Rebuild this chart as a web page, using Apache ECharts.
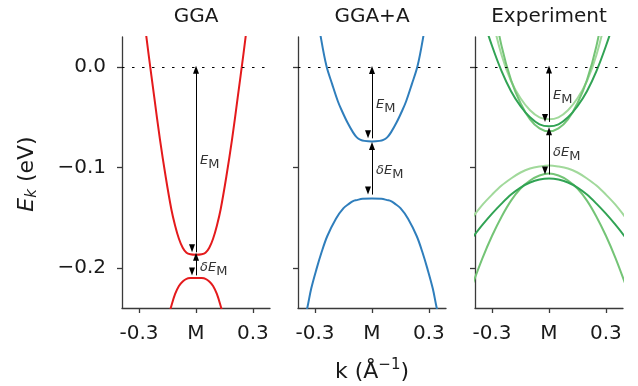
<!DOCTYPE html>
<html>
<head>
<meta charset="utf-8">
<script src="https://cdn.jsdelivr.net/npm/echarts@6/dist/echarts.min.js"></script>
<style>
  html, body { margin: 0; padding: 0; background: #fff; }
  #chart { width: 638px; height: 386px; }
</style>
</head>
<body>
<div id="chart"></div>
<script>
// ---- panel titles and axis ticks ----
const panelTitles = ['GGA', 'GGA+A', 'Experiment'];
const xTickValues = [-0.3, 0, 0.3];
const xTickLabels = ['-0.3', 'M', '0.3'];
const yTickValues = [0, -0.1, -0.2];
const yTickLabels = ['0.0', '\u22120.1', '\u22120.2'];

// ---- GGA bands (k in 1/Angstrom, E in eV) ----
const ggaUpperK = [-0.28, -0.25, -0.22, -0.19, -0.16, -0.13, -0.11, -0.09, -0.07, -0.05, -0.03, 0,
                   0.03, 0.05, 0.07, 0.09, 0.11, 0.13, 0.16, 0.19, 0.22, 0.25, 0.28];
const ggaUpperE = [0.058, 0.013, -0.030, -0.072, -0.109, -0.1416, -0.158, -0.171, -0.180, -0.185, -0.1865, -0.187,
                   -0.1865, -0.185, -0.180, -0.171, -0.158, -0.1416, -0.109, -0.072, -0.030, 0.013, 0.058];
const ggaLowerK = [-0.15, -0.13, -0.11, -0.09, -0.07, -0.05, -0.03, 0, 0.03, 0.05, 0.07, 0.09, 0.11, 0.13, 0.15];
const ggaLowerE = [-0.252, -0.238, -0.226, -0.218, -0.2135, -0.211, -0.2102, -0.210,
                   -0.2102, -0.211, -0.2135, -0.218, -0.226, -0.238, -0.252];

// ---- GGA+A bands ----
const ggaaUpperK = [-0.29, -0.27, -0.24, -0.21, -0.18, -0.16, -0.13, -0.10, -0.08, -0.06, -0.04, 0,
                    0.04, 0.06, 0.08, 0.10, 0.13, 0.16, 0.18, 0.21, 0.24, 0.27, 0.29];
const ggaaUpperE = [0.055, 0.030, 0.001, -0.017, -0.034, -0.043, -0.055, -0.065, -0.070, -0.0725, -0.0735, -0.074,
                    -0.0735, -0.0725, -0.070, -0.065, -0.055, -0.043, -0.034, -0.017, 0.001, 0.030, 0.055];
const ggaaLowerK = [-0.36, -0.34, -0.32, -0.293, -0.265, -0.236, -0.19, -0.15, -0.12, -0.10, -0.08, -0.05, 0,
                    0.05, 0.08, 0.10, 0.12, 0.15, 0.19, 0.236, 0.265, 0.293, 0.32, 0.34, 0.36];
const ggaaLowerE = [-0.256, -0.239, -0.2204, -0.2015, -0.184, -0.1685, -0.151, -0.1405, -0.136, -0.1335, -0.1325, -0.1312, -0.131,
                    -0.1312, -0.1325, -0.1335, -0.136, -0.1405, -0.151, -0.1685, -0.184, -0.2015, -0.2204, -0.239, -0.256];

// ---- Experimental bands (three data sets) ----
const expK = [-0.40, -0.35, -0.30, -0.25, -0.20, -0.15, -0.10, -0.05, 0,
              0.05, 0.10, 0.15, 0.20, 0.25, 0.30, 0.35, 0.40];
const expLightUpper  = [0.150, 0.100, 0.050, 0.012, -0.014, -0.031, -0.043, -0.050, -0.052,
                        -0.050, -0.043, -0.031, -0.014, 0.012, 0.050, 0.100, 0.150];
const expMediumUpper = [0.200, 0.130, 0.070, 0.021, -0.013, -0.036, -0.052, -0.061, -0.064,
                        -0.061, -0.052, -0.036, -0.013, 0.021, 0.070, 0.130, 0.200];
const expDarkUpper   = [0.085, 0.050, 0.021, -0.004, -0.024, -0.039, -0.050, -0.057, -0.059,
                        -0.057, -0.050, -0.039, -0.024, -0.004, 0.021, 0.050, 0.085];
const expLightLower  = [-0.149, -0.137, -0.127, -0.118, -0.111, -0.105, -0.101, -0.099, -0.098,
                        -0.099, -0.101, -0.105, -0.111, -0.118, -0.127, -0.137, -0.149];
const expMediumLower = [-0.215, -0.190, -0.168, -0.149, -0.133, -0.121, -0.113, -0.108, -0.106,
                        -0.108, -0.113, -0.121, -0.133, -0.149, -0.168, -0.190, -0.215];
const expDarkLower   = [-0.169, -0.157, -0.146, -0.136, -0.127, -0.120, -0.115, -0.112, -0.111,
                        -0.112, -0.115, -0.120, -0.127, -0.136, -0.146, -0.157, -0.169];

// ---- gap arrows at M: [E_start, E_end] ----
const ggaArrows  = [[-0.0027, -0.1845], [-0.189, -0.2075]];
const ggaaArrows = [[-0.003, -0.071], [-0.0785, -0.127]];
const expArrows  = [[-0.0025, -0.0546], [-0.064, -0.107]];
const arrowLabels = ['{e|E}{m|M}', '{d|\u03b4E}{m|M}'];

// ---- styling ----
const FONT = 'DejaVu Sans';
const TEXT = '#1a1a1a';
const AXIS = '#3a3a3a';
const RED = '#e41a1c';
const BLUE = '#2f7ebc';
const G_LIGHT = '#a1d99b';
const G_MED = '#74c476';
const G_DARK = '#31a354';

const gridLefts = [122, 298, 475];
const gridTop = 37, gridWidth = 148, gridHeight = 271;

const zip = (ks, es) => ks.map((k, i) => [k, es[i]]);

function curve(panel, name, ks, es, color) {
  return {
    type: 'line', name, xAxisIndex: panel, yAxisIndex: panel,
    data: zip(ks, es), smooth: 0.35, symbol: 'none', clip: true,
    lineStyle: { color, width: 2 }, silent: true, z: 3
  };
}

function zeroLine(s) {
  s.markLine = {
    silent: true, symbol: 'none', animation: false,
    label: { show: false },
    lineStyle: { color: '#000', width: 1, type: [2.5, 7.5] },
    data: [{ yAxis: 0 }]
  };
  return s;
}

function arrows(s, pairs) {
  s.markLine = {
    silent: true, animation: false,
    symbol: ['triangle', 'triangle'], symbolSize: [6, 8], symbolOffset: [0, 4],
    label: { show: false },
    lineStyle: { color: '#000', width: 1, type: 'solid' },
    data: pairs.map(p => [{ coord: [0, p[0]] }, { coord: [0, p[1]] }])
  };
  return s;
}

const series = [
  zeroLine(curve(0, 'GGA upper', ggaUpperK, ggaUpperE, RED)),
  arrows(curve(0, 'GGA lower', ggaLowerK, ggaLowerE, RED), ggaArrows),
  zeroLine(curve(1, 'GGA+A upper', ggaaUpperK, ggaaUpperE, BLUE)),
  arrows(curve(1, 'GGA+A lower', ggaaLowerK, ggaaLowerE, BLUE), ggaaArrows),
  zeroLine(curve(2, 'light lower', expK, expLightLower, G_LIGHT)),
  curve(2, 'light upper', expK, expLightUpper, G_LIGHT),
  curve(2, 'medium lower', expK, expMediumLower, G_MED),
  arrows(curve(2, 'medium upper', expK, expMediumUpper, G_MED), expArrows),
  curve(2, 'dark lower', expK, expDarkLower, G_DARK),
  curve(2, 'dark upper', expK, expDarkUpper, G_DARK)
];

const labelFor = (vals, labels) => v => {
  const i = vals.findIndex(t => Math.abs(t - v) < 1e-9);
  return i < 0 ? '' : labels[i];
};

const grid = gridLefts.map(l => ({ left: l, top: gridTop, width: gridWidth, height: gridHeight, containLabel: false }));

const xAxis = gridLefts.map((l, i) => ({
  type: 'value', gridIndex: i, min: -0.39, max: 0.39,
  axisLine: { show: true, onZero: false, lineStyle: { color: AXIS, width: 1.3 } },
  axisTick: { show: true, customValues: xTickValues, length: 5, lineStyle: { color: AXIS, width: 1.3 } },
  axisLabel: { show: true, customValues: xTickValues, formatter: labelFor(xTickValues, xTickLabels),
               fontFamily: FONT, fontSize: 20, color: TEXT, margin: 16 },
  splitLine: { show: false }
}));

const yAxis = gridLefts.map((l, i) => ({
  type: 'value', gridIndex: i, min: -0.24, max: 0.03,
  axisLine: { show: true, onZero: false, lineStyle: { color: AXIS, width: 1.3 } },
  axisTick: { show: true, customValues: yTickValues, length: 5, lineStyle: { color: AXIS, width: 1.3 } },
  axisLabel: { show: i === 0, customValues: yTickValues, formatter: labelFor(yTickValues, yTickLabels),
               fontFamily: FONT, fontSize: 20, color: TEXT, margin: 16 },
  splitLine: { show: false }
}));

const chart = echarts.init(document.getElementById('chart'), null, { renderer: 'canvas' });
chart.setOption({ animation: false, backgroundColor: '#fff', grid, xAxis, yAxis, series });

// ---- texts: titles, axis names, gap labels ----
const graphics = [];
panelTitles.forEach((t, i) => {
  graphics.push({
    type: 'text', x: gridLefts[i] + gridWidth / 2, y: 17,
    style: { text: t, font: `20px "${FONT}"`, fill: TEXT, align: 'center', verticalAlign: 'middle' }
  });
});
graphics.push({
  type: 'text', x: 27, y: 174, rotation: Math.PI / 2,
  style: {
    text: '{e|E}{k|k}{n| (eV)}', align: 'center', verticalAlign: 'middle', fill: TEXT,
    rich: {
      e: { fontFamily: FONT, fontSize: 22, fontStyle: 'italic', fill: TEXT },
      k: { fontFamily: FONT, fontSize: 15, fontStyle: 'italic', fill: TEXT, padding: [10, 0, 0, 0] },
      n: { fontFamily: FONT, fontSize: 22, fill: TEXT }
    }
  }
});
graphics.push({
  type: 'text', x: gridLefts[1] + gridWidth / 2, y: 372,
  style: {
    text: '{n|k (\u00c5}{s|\u22121}{n|)}', align: 'center', verticalAlign: 'middle', fill: TEXT,
    rich: {
      n: { fontFamily: FONT, fontSize: 22, fill: TEXT },
      s: { fontFamily: FONT, fontSize: 15, fill: TEXT, padding: [0, 0, 13, 0] }
    }
  }
});
const labelRich = {
  e: { fontFamily: FONT, fontSize: 13, fontStyle: 'italic', fill: '#333' },
  d: { fontFamily: FONT, fontSize: 13, fontStyle: 'italic', fill: '#333' },
  m: { fontFamily: FONT, fontSize: 13, fill: '#333', padding: [8, 0, 0, 0] }
};
[ggaArrows, ggaaArrows, expArrows].forEach((pairs, panel) => {
  pairs.forEach((p, j) => {
    const pt = chart.convertToPixel({ gridIndex: panel }, [0, (p[0] + p[1]) / 2]);
    graphics.push({
      type: 'text', x: pt[0] + 4, y: pt[1] + (j === 1 && panel === 0 ? 2 : 0),
      style: { text: arrowLabels[j], align: 'left', verticalAlign: 'middle', rich: labelRich }
    });
  });
});
chart.setOption({ graphic: graphics });
</script>
</body>
</html>
